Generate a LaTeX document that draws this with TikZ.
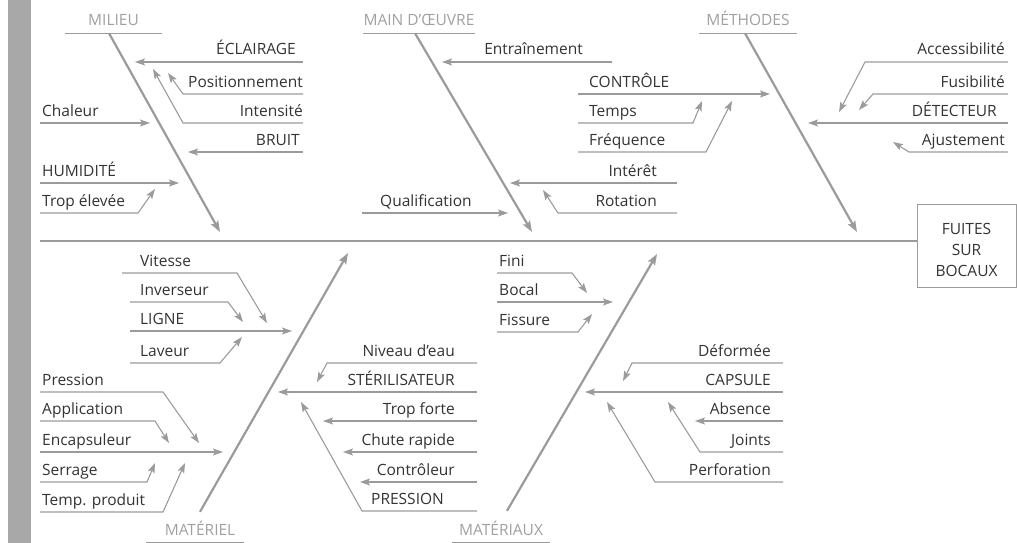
\documentclass[tikz,border=0pt]{standalone}
\usepackage{fontspec}
\setmainfont{Open Sans}
\usetikzlibrary{arrows.meta,positioning,calc}
\definecolor{wire}{HTML}{9B9B9B}
\definecolor{ink}{HTML}{333333}
\definecolor{faded}{HTML}{A0A0A0}
\definecolor{band}{HTML}{A8A8A8}

\tikzset{
  cause/.style={font=\fontsize{15.5}{18}\selectfont,text=ink,inner sep=0pt},
  category/.style={font=\fontsize{15.5}{18}\selectfont,text=faded,minimum width=97pt,
                   text height=11pt,text depth=0pt,inner xsep=0pt,inner ysep=7pt},
  twig/.style={draw=wire,line width=1.1pt,-{Stealth[length=10pt,width=7pt,inset=2pt]}},
  rib/.style={draw=wire,line width=2.2pt,-{Stealth[length=11pt,width=8pt,inset=2pt]}},
  header/.style={draw=wire,line width=1.1pt},
}

\begin{document}
\begin{tikzpicture}[x=1pt,y=-1pt]
  \useasboundingbox (0,0) rectangle (1017,543);
  \fill[band] (8,0) rectangle (31,543);

  % spine and effect
  \node[draw=wire,line width=1pt,minimum width=99pt,minimum height=83pt] (effet) at (966.5,245.5) {};
  \node[align=center,font=\fontsize{15.5}{21}\selectfont,text=ink,inner sep=0pt]
       (effet-txt) at ([yshift=-4pt]effet.center) {FUITES\\SUR\\BOCAUX};
  \coordinate (spine) at (40,241);
  \draw[draw=wire,line width=1.4pt] (spine) -- (spine -| effet.west);

  % categories
  \node[category,anchor=base] (milieu) at (113.5,26) {MILIEU};
  \node[category,anchor=base] (main) at (419,26) {MAIN D’ŒUVRE};
  \node[category,anchor=base] (methodes) at (748,26) {MÉTHODES};
  \node[category,anchor=base] (materiel) at (195,535) {\hspace{10pt}MATÉRIEL};
  \node[category,anchor=base] (materiaux) at (501,535) {MATÉRIAUX};
  \foreach \c in {milieu,main,methodes,materiel,materiaux}
    \draw[header] (\c.south west) -- (\c.south east);

  \coordinate (milieu-tip) at (220,232);
  \coordinate (main-tip) at (532,232);
  \coordinate (methodes-tip) at (857,232);
  \coordinate (materiel-tip) at (348,253);
  \coordinate (materiaux-tip) at (657,254);
  \draw[rib] ($(milieu.south)+(-4.5,0)$) -- (milieu-tip);
  \draw[rib] ($(main.south)+(-4,0)$) -- (main-tip);
  \draw[rib] ($(methodes.south)+(-3,0)$) -- (methodes-tip);
  \draw[rib] ($(materiel.north)+(5,-5)$) -- (materiel-tip);
  \draw[rib] ($(materiaux.north)+(6,-6)$) -- (materiaux-tip);

  % causes: name/text/anchor/text x/line y/start/bend/tip x/tip y
  \foreach \id/\lab/\al/\xt/\yl/\xs/\xb/\xe/\ye in {%
    eclairage/{ÉCLAIRAGE}/east/296/62/303/303/135/62,
    position/{Positionnement}/east/303/94/303/183/168/73,
    intensite/{Intensité}/east/303/123/303/183/153/69,
    bruit/{BRUIT}/east/300/152/303/303/188/152,
    chaleur/{Chaleur}/west/42/123/40/40/150/123,
    humidite/{HUMIDITÉ}/west/42/183/40/40/179/183,
    elevee/{Trop élevée}/west/42/213/40/138/155/189,
    entrain/{Entraînement}/east/583/62/612/612/442/62,
    controle/{CONTRÔLE}/west/589/94/578/578/770/94,
    temps/{Temps}/west/589/123/578/693/702/101,
    frequence/{Fréquence}/west/589/152/578/706/732/101,
    interet/{Intérêt}/east/657/183/677/677/510/183,
    rotation/{Rotation}/east/657/213/677/558/543/190,
    qualif/{Qualification}/west/380/213/362/362/508/213,
    access/{Accessibilité}/east/1005/62/1008/865/839/112,
    fusib/{Fusibilité}/east/1005/94/1008/873/859/110,
    detecteur/{DÉTECTEUR}/east/997/123/1008/1008/808/123,
    ajust/{Ajustement}/east/1005/152/1008/909/893/142,
    vitesse/{Vitesse}/west/140/273/122/237/267/323,
    inverseur/{Inverseur}/west/140/302/130/228/243/322,
    ligne/{LIGNE}/west/140/331/130/130/292/331,
    laveur/{Laveur}/west/140/363/130/220/242/337,
    pression/{Pression}/west/42/392/40/163/199/443,
    applic/{Application}/west/42/421/40/155/169/443,
    encaps/{Encapsuleur}/west/42/452/40/40/223/452,
    serrage/{Serrage}/west/42/482/40/147/155/463,
    tempprod/{Temp. produit}/west/42/512/40/163/185/463,
    niveau/{Niveau d’eau}/east/455/363/477/327/317/382,
    steril/{STÉRILISATEUR}/east/455/392/477/477/278/392,
    forte/{Trop forte}/east/455/421/477/477/323/421,
    chute/{Chute rapide}/east/455/452/477/477/343/452,
    regul/{Contrôleur}/east/455/482/477/477/360/482,
    pressbig/{PRESSION}/west/371/511/477/362/301/402,
    fini/{Fini}/west/499/273/497/572/587/293,
    bocal/{Bocal}/west/499/302/497/497/613/302,
    fissure/{Fissure}/west/499/332/497/578/592/314,
    deformee/{Déformée}/east/771/363/783/632/623/381,
    capsule/{CAPSULE}/east/771/392/783/783/585/392,
    absence/{Absence}/east/771/421/783/783/695/421,
    joints/{Joints}/east/771/452/783/700/668/402,
    perfo/{Perforation}/east/771/482/783/655/607/402}
  {
    \node[cause,anchor=base \al] (\id) at (\xt,\yl-7) {\lab};
    \coordinate (\id-a) at (\xs,\yl);
    \coordinate (\id-b) at (\xb,\yl);
    \coordinate (\id-c) at (\xe,\ye);
    \draw[twig] (\id-a) -- (\id-b) -- (\id-c);
  }
\end{tikzpicture}
\end{document}
